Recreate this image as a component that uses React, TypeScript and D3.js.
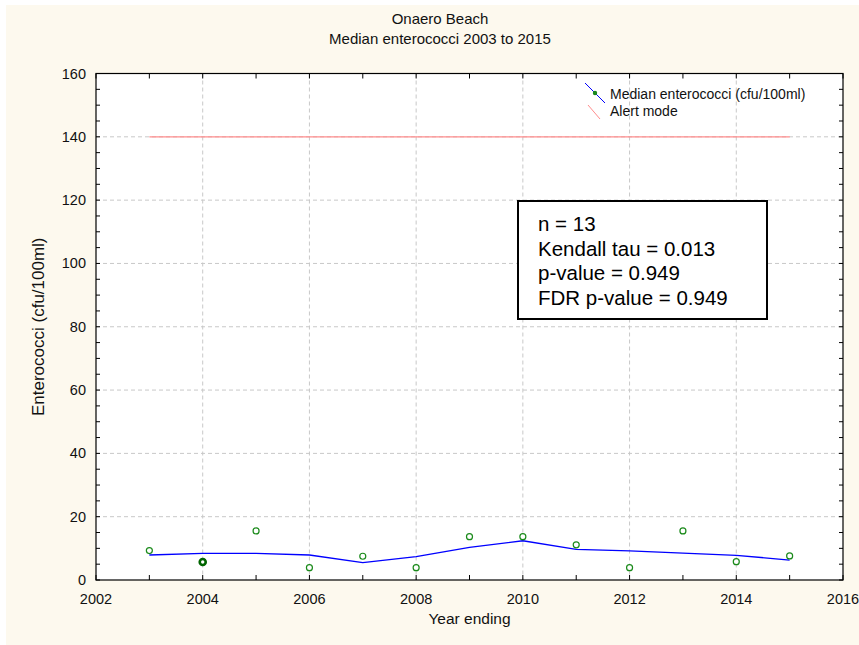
import * as d3 from 'd3';

const years = [2003, 2004, 2005, 2006, 2007, 2008, 2009, 2010, 2011, 2012, 2013, 2014, 2015];
const medianValues = [9.3, 5.7, 15.5, 3.9, 7.5, 3.9, 13.7, 13.7, 11.1, 3.9, 15.5, 5.8, 7.6];
// overlapping observations drawn as a heavier marker
const pointCounts = [1, 3, 1, 1, 1, 1, 1, 1, 1, 1, 1, 1, 1];
const trendValues = [7.9, 8.4, 8.4, 7.9, 5.5, 7.4, 10.3, 12.4, 9.7, 9.2, 8.5, 7.8, 6.3];
const alertValue = 140;
const xTicks = [2002, 2004, 2006, 2008, 2010, 2012, 2014, 2016];
const yTicks = [0, 20, 40, 60, 80, 100, 120, 140, 160];
const statLines = ['n = 13', 'Kendall tau = 0.013', 'p-value = 0.949', 'FDR p-value = 0.949'];
const legendLabels = ['Median enterococci (cfu/100ml)', 'Alert mode'];

const FONT = '"Liberation Sans", Arial, sans-serif';

export default function App() {
  const W = 859;
  const H = 645;
  const left = 96, right = 843, top = 73.5, bottom = 580;

  const x = d3.scaleLinear().domain([2002, 2016]).range([left, right]);
  const y = d3.scaleLinear().domain([0, 160]).range([bottom, top]);

  const minorX = d3.range(2002, 2017, 1);
  const minorY = d3.range(0, 161, 5);

  const trendLine = d3.line<number>()
    .x((_, i) => x(years[i]))
    .y(d => y(d));

  const midX = (left + right) / 2;
  const titleX = 440;

  return (
    <svg width={W} height={H} style={{ position: 'absolute', left: 0, top: 0, background: '#fff' }} fontFamily={FONT}>
      <rect x={6} y={5} width={W - 6} height={H - 5} fill="#FDF9EE" />
      <rect x={left} y={top} width={right - left} height={bottom - top} fill="#fff" />

      {/* grid */}
      {xTicks.slice(1, -1).map(t => (
        <line key={'gx' + t} x1={x(t)} x2={x(t)} y1={top} y2={bottom} stroke="#c8c8c8" strokeDasharray="4 3" />
      ))}
      {yTicks.slice(1, -1).map(t => (
        <line key={'gy' + t} x1={left} x2={right} y1={y(t)} y2={y(t)} stroke="#c8c8c8" strokeDasharray="4 3" />
      ))}

      {/* alert line */}
      <line x1={x(years[0])} x2={x(years[years.length - 1])} y1={y(alertValue)} y2={y(alertValue)} stroke="#ff8c8c" strokeWidth={1.2} />

      {/* trend */}
      <path d={trendLine(trendValues) || ''} fill="none" stroke="#0000ff" strokeWidth={1.3} />

      {/* points */}
      {years.map((yr, i) => (
        <circle key={'p' + yr} cx={x(yr)} cy={y(medianValues[i])} r={3}
          fill="#fff" stroke={pointCounts[i] > 1 ? '#006400' : '#1a8a1a'}
          strokeWidth={pointCounts[i] > 1 ? 2.6 : 1.2} />
      ))}

      {/* frame and ticks */}
      <rect x={left} y={top} width={right - left} height={bottom - top} fill="none" stroke="#000" strokeWidth={1.2} />
      {minorX.map(t => (
        <g key={'tx' + t}>
          <line x1={x(t)} x2={x(t)} y1={bottom} y2={bottom - 5} stroke="#000" />
          <line x1={x(t)} x2={x(t)} y1={top} y2={top + 5} stroke="#000" />
        </g>
      ))}
      {minorY.map(t => (
        <g key={'ty' + t}>
          <line x1={left} x2={left + 4} y1={y(t)} y2={y(t)} stroke="#000" />
          <line x1={right} x2={right - 4} y1={y(t)} y2={y(t)} stroke="#000" />
        </g>
      ))}
      {xTicks.map(t => (
        <text key={'lx' + t} x={x(t)} y={604} textAnchor="middle" fontSize={14.5} fill="#111">{t}</text>
      ))}
      {yTicks.map(t => (
        <text key={'ly' + t} x={86} y={y(t) + 5} textAnchor="end" fontSize={14.5} fill="#111">{t}</text>
      ))}

      {/* titles */}
      <text x={titleX} y={24} textAnchor="middle" fontSize={15} fill="#111">Onaero Beach</text>
      <text x={titleX} y={44} textAnchor="middle" fontSize={15} fill="#111">Median enterococci 2003 to 2015</text>
      <text x={midX} y={624} textAnchor="middle" fontSize={15.5} fill="#111">Year ending</text>
      <text transform={`translate(44, ${(top + bottom) / 2}) rotate(-90)`} textAnchor="middle" fontSize={17} fill="#111">
        Enterococci (cfu/100ml)
      </text>

      {/* legend */}
      <line x1={585} y1={83} x2={605} y2={103} stroke="#0000ff" />
      <circle cx={595} cy={93} r={2.2} fill="#1a8a1a" />
      <line x1={588} y1={105} x2={600} y2={119} stroke="#ff8c8c" />
      {legendLabels.map((l, i) => (
        <text key={l} x={610} y={99 + i * 17} fontSize={14} fill="#111">{l}</text>
      ))}

      {/* statistics box */}
      <rect x={518} y={201} width={249} height={118} fill="#fff" stroke="#000" strokeWidth={2} />
      {statLines.map((s, i) => (
        <text key={s} x={538} y={231 + i * 24.5} fontSize={20.5} fill="#000">{s}</text>
      ))}
    </svg>
  );
}
